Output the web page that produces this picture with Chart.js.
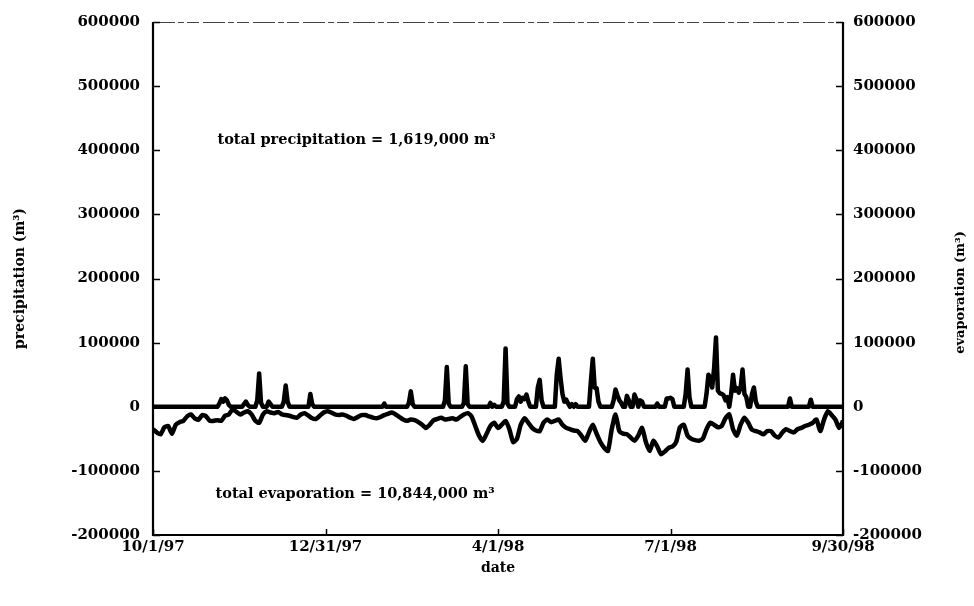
<!DOCTYPE html>
<html>
<head>
<meta charset="utf-8">
<script src="https://cdn.jsdelivr.net/npm/chart.js@4/dist/chart.umd.min.js"></script>
<style>
  html, body { margin: 0; padding: 0; background: #ffffff; }
  #wrap { width: 974px; height: 606px; }
</style>
</head>
<body>
<div id="wrap"><canvas id="c" width="974" height="606"></canvas></div>
<script>
// Water year 10/1/97 – 9/30/98, x = day number from 10/1/97
const tickDays = [0, 91, 182, 273, 364];
const tickLabels = ['10/1/97', '12/31/97', '4/1/98', '7/1/98', '9/30/98'];
const yTicks = [-200000, -100000, 0, 100000, 200000, 300000, 400000, 500000, 600000];

// Daily precipitation volume (thousand m³), one value per day
const precipK = [
  0,0,0,0,0,0,0,0,0,0,  0,0,0,0,0,0,0,0,0,0,  0,0,0,0,0,0,0,0,0,0,
  0,0,0,0,0,5,12,8,13,10,  3,0,0,0,0,0,0,0,4,8,  3,0,0,0,0,10,52,6,0,0,
  0,8,4,0,0,0,0,0,0,8,  33,8,0,0,0,0,0,0,0,0,  0,0,0,20,4,0,0,0,0,0,
  0,0,0,0,0,0,0,0,0,0,  0,0,0,0,0,0,0,0,0,0,  0,0,0,0,0,0,0,0,0,0,
  0,0,5,0,0,0,0,0,0,0,  0,0,0,0,0,6,24,4,0,0,  0,0,0,0,0,0,0,0,0,0,
  0,0,0,0,10,62,5,0,0,0,  0,0,0,0,6,63,4,0,0,0,  0,0,0,0,0,0,0,0,6,0,
  3,0,0,0,0,8,91,5,0,0,  0,0,12,16,8,14,12,19,8,0,  0,0,0,30,42,10,0,0,0,0,
  0,0,0,50,75,45,20,8,11,5,  0,4,0,4,0,0,0,0,0,0,  0,40,75,30,29,8,0,0,0,0,
  0,0,0,10,27,18,10,6,0,0,  17,10,0,0,19,12,0,10,8,0,  0,0,0,0,0,0,5,0,0,0,
  0,13,13,14,12,0,0,0,0,0,  0,20,58,15,0,0,0,0,0,0,  0,0,20,50,45,30,60,108,25,21,
  20,18,10,15,0,20,50,25,29,22,  30,58,20,15,0,0,20,30,8,0,  0,0,0,0,0,0,0,0,0,0,
  0,0,0,0,0,0,13,0,0,0,  0,0,0,0,0,0,0,11,0,0,  0,0,0,0,0,0,0,0,0,0,
  0,0,0,0,0
];

// Evaporation volume (thousand m³, negative), read every second day
const evapK = [
  -35,-40,-43,-32,-30,-42,-28,-24,-22,-15,
  -12,-18,-20,-13,-15,-22,-22,-21,-22,-14,
  -12,-4,-8,-12,-9,-7,-12,-22,-25,-12,
  -7,-9,-10,-8,-12,-13,-14,-16,-17,-12,
  -10,-14,-18,-19,-14,-9,-7,-9,-12,-13,
  -12,-14,-17,-19,-16,-13,-13,-15,-17,-18,
  -16,-13,-11,-9,-12,-16,-20,-22,-20,-21,
  -24,-28,-33,-28,-21,-19,-17,-20,-19,-18,
  -20,-16,-12,-10,-15,-30,-45,-53,-42,-30,
  -25,-33,-28,-22,-35,-55,-50,-28,-18,-25,
  -33,-37,-38,-25,-20,-24,-22,-20,-28,-33,
  -35,-37,-38,-45,-53,-40,-28,-42,-55,-64,
  -69,-35,-12,-38,-42,-43,-48,-53,-45,-33,
  -55,-69,-53,-62,-74,-70,-64,-62,-55,-32,
  -28,-45,-50,-52,-53,-50,-35,-25,-28,-32,
  -30,-18,-12,-35,-45,-28,-17,-25,-36,-38,
  -40,-43,-38,-38,-45,-48,-40,-35,-38,-40,
  -35,-33,-30,-28,-25,-20,-38,-20,-7,-13,
  -20,-33,-22
];
const evapStep = 2; // days between evaporation readings

const totalPrecipText = 'total precipitation = 1,619,000 m³';
const totalEvapText = 'total evaporation = 10,844,000 m³';

const precipPoints = precipK.map((v, i) => ({ x: i, y: v * 1000 }));
const evapPoints = evapK.map((v, i) => ({ x: i * evapStep, y: v * 1000 }));

const FONT = '"DejaVu Serif", "Liberation Serif", serif';

// Frame, inward tick marks, titles and the two totals
const decorPlugin = {
  id: 'decor',
  afterDraw(chart) {
    const ctx = chart.ctx;
    const a = chart.chartArea;
    const sx = chart.scales.x, sy = chart.scales.y;
    ctx.save();
    ctx.lineCap = 'butt';

    // top edge (thin broken line)
    ctx.lineWidth = 1.2;
    ctx.setLineDash([22, 3, 6, 3, 12, 4]);
    ctx.strokeStyle = '#444';
    ctx.beginPath();
    ctx.moveTo(a.left, a.top + 0.5);
    ctx.lineTo(a.right, a.top + 0.5);
    ctx.stroke();
    ctx.setLineDash([]);
    ctx.strokeStyle = '#000';

    // left, right, bottom axis lines
    ctx.lineWidth = 2.2;
    ctx.beginPath();
    ctx.moveTo(a.left, a.top);
    ctx.lineTo(a.left, a.bottom);
    ctx.lineTo(a.right, a.bottom);
    ctx.lineTo(a.right, a.top);
    ctx.stroke();

    // inward ticks
    ctx.lineWidth = 1.5;
    yTicks.forEach(v => {
      const py = Math.round(sy.getPixelForValue(v)) + 0.5;
      ctx.beginPath();
      ctx.moveTo(a.left, py); ctx.lineTo(a.left + 7, py);
      ctx.moveTo(a.right, py); ctx.lineTo(a.right - 7, py);
      ctx.stroke();
    });
    tickDays.forEach(d => {
      const px = Math.round(sx.getPixelForValue(d)) + 0.5;
      ctx.beginPath();
      ctx.moveTo(px, a.bottom); ctx.lineTo(px, a.bottom - 6);
      ctx.stroke();
    });

    // axis titles
    ctx.fillStyle = '#000';
    ctx.textAlign = 'center';
    ctx.textBaseline = 'middle';
    const midY = (a.top + a.bottom) / 2;
    ctx.font = 'bold 14px ' + FONT;
    ctx.save();
    ctx.translate(20, midY);
    ctx.rotate(-Math.PI / 2);
    ctx.fillText('precipitation (m³)', 0, 0);
    ctx.restore();
    ctx.font = 'bold 13px ' + FONT;
    ctx.save();
    ctx.translate(961, midY + 14);
    ctx.rotate(-Math.PI / 2);
    ctx.fillText('evaporation (m³)', 0, 0);
    ctx.restore();
    ctx.font = 'bold 14px ' + FONT;
    ctx.fillText('date', (a.left + a.right) / 2, 568);

    // totals
    ctx.font = 'bold 14.5px ' + FONT;
    ctx.textAlign = 'left';
    ctx.fillText(totalPrecipText, sx.getPixelForValue(34), sy.getPixelForValue(416000));
    ctx.fillText(totalEvapText, sx.getPixelForValue(33), sy.getPixelForValue(-137000));
    ctx.restore();
  }
};

new Chart(document.getElementById('c'), {
  type: 'line',
  data: {
    datasets: [
      {
        label: 'precipitation',
        data: precipPoints,
        yAxisID: 'y',
        borderColor: '#000',
        borderWidth: 4.5,
        pointRadius: 0,
        tension: 0,
        borderJoinStyle: 'round',
        borderCapStyle: 'butt'
      },
      {
        label: 'evaporation',
        data: evapPoints,
        yAxisID: 'y2',
        borderColor: '#000',
        borderWidth: 4.5,
        pointRadius: 0,
        tension: 0.2,
        borderJoinStyle: 'round'
      }
    ]
  },
  options: {
    responsive: false,
    animation: false,
    devicePixelRatio: 1,
    layout: { padding: { top: 17, left: 0, right: 0, bottom: 0 } },
    plugins: { legend: { display: false }, tooltip: { enabled: false } },
    scales: {
      x: {
        type: 'linear',
        min: 0, max: 364,
        grid: { display: false, drawTicks: false },
        border: { display: false },
        afterBuildTicks: s => { s.ticks = tickDays.map(v => ({ value: v })); },
        afterFit: s => { s.height = 71; },
        ticks: {
          autoSkip: false,
          maxRotation: 0,
          padding: 3,
          color: '#000',
          font: { family: FONT, weight: 'bold', size: 15 },
          callback: v => tickLabels[tickDays.indexOf(v)]
        }
      },
      y: {
        position: 'left',
        min: -200000, max: 600000,
        grid: { display: false, drawTicks: false },
        border: { display: false },
        afterBuildTicks: s => { s.ticks = yTicks.map(v => ({ value: v })); },
        afterFit: s => { s.width = 153; },
        ticks: {
          padding: 13,
          color: '#000',
          font: { family: FONT, weight: 'bold', size: 15 },
          callback: v => String(v)
        }
      },
      y2: {
        position: 'right',
        min: -200000, max: 600000,
        grid: { display: false, drawTicks: false },
        border: { display: false },
        afterBuildTicks: s => { s.ticks = yTicks.map(v => ({ value: v })); },
        afterFit: s => { s.width = 131; },
        ticks: {
          padding: 10,
          color: '#000',
          font: { family: FONT, weight: 'bold', size: 15 },
          callback: v => String(v)
        }
      }
    }
  },
  plugins: [decorPlugin]
});
</script>
</body>
</html>
